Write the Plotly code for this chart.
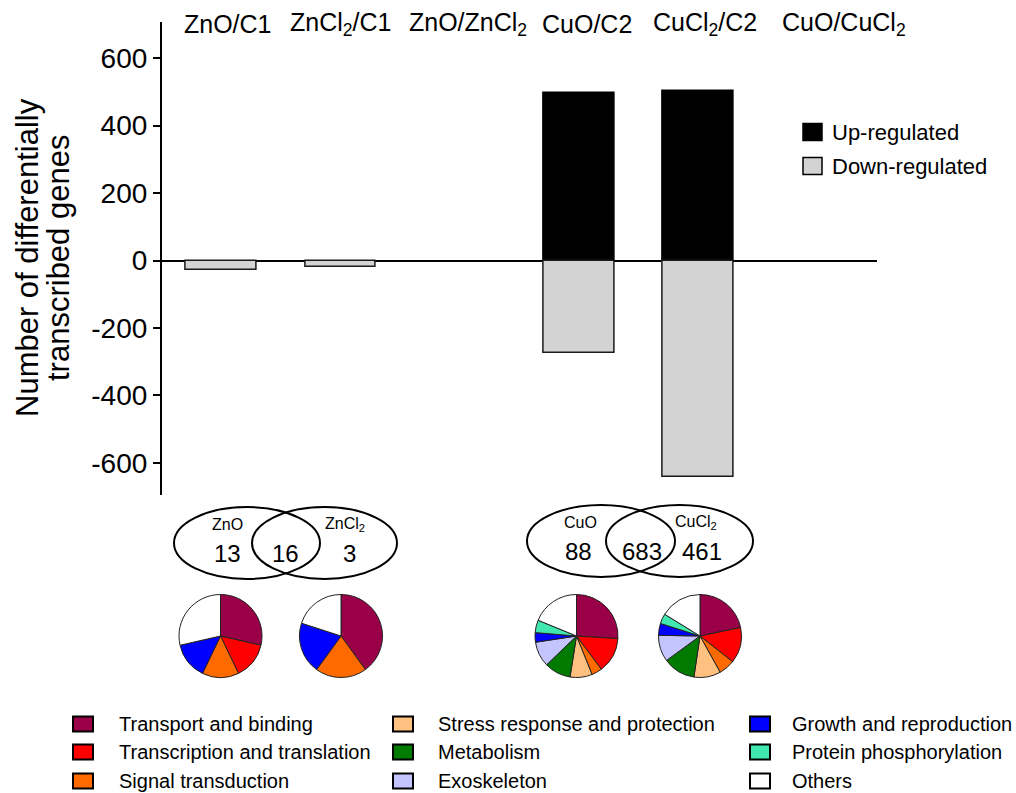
import plotly.graph_objects as go

# ---------------- data ----------------
comparisons = ["ZnO/C1", "ZnCl<sub>2</sub>/C1", "ZnO/ZnCl<sub>2</sub>",
               "CuO/C2", "CuCl<sub>2</sub>/C2", "CuO/CuCl<sub>2</sub>"]
# None = no differentially transcribed genes reported for that direction
up_regulated = [None, None, None, 496, 502, None]
down_regulated = [-29, -19, None, -275, -642, None]

y_ticks = [-600, -400, -200, 0, 200, 400, 600]
y_tick_text = ["-600", "-400", "-200", "0", "200", "400", "600"]

# Venn counts: (only first, shared, only second)
venn_zn_labels = ["ZnO", "ZnCl<sub>2</sub>"]
venn_zn_counts = [13, 16, 3]
venn_cu_labels = ["CuO", "CuCl<sub>2</sub>"]
venn_cu_counts = [88, 683, 461]

# functional categories (% of genes)
categories = ["Transport and binding", "Transcription and translation",
              "Signal transduction", "Stress response and protection",
              "Metabolism", "Exoskeleton", "Growth and reproduction",
              "Protein phosphorylation", "Others"]
category_colors = ["#990047", "#FF0000", "#FF6A00", "#FFC080", "#007A00",
                   "#C4C4FF", "#0000FF", "#40E8B0", "#FFFFFF"]
pie_zno = [28.6, 14.3, 14.3, 0, 0, 0, 14.3, 0, 28.6]
pie_zncl2 = [40.0, 0, 20.0, 0, 0, 0, 20.0, 0, 20.0]
pie_cuo = [26.0, 13.8, 4.1, 8.6, 10.3, 9.8, 3.7, 4.9, 18.8]
pie_cucl2 = [21.7, 13.9, 6.3, 10.4, 12.6, 10.3, 4.6, 3.9, 16.2]

# ---------------- layout helpers (pixel -> paper) ----------------
W, H = 1016, 793
FONT = "Arial, Liberation Sans, sans-serif"


def px(x):
    return x / W


def py(y):
    return 1 - y / H


fig = go.Figure()

fig.add_trace(go.Bar(x=list(range(6)), y=up_regulated, name="Up-regulated",
                     width=0.593, marker=dict(color="black",
                                              line=dict(color="black", width=1.5)),
                     showlegend=False))
fig.add_trace(go.Bar(x=list(range(6)), y=down_regulated, name="Down-regulated",
                     width=0.593, marker=dict(color="#D3D3D3",
                                              line=dict(color="#1a1a1a", width=1.5)),
                     showlegend=False))

# pies of functional categories
pie_centers = [220.5, 341, 576.5, 700]
pie_y, pie_r = 636, 41.5
for cx, vals in zip(pie_centers, [pie_zno, pie_zncl2, pie_cuo, pie_cucl2]):
    labs = [c for c, v in zip(categories, vals) if v > 0]
    cols = [k for k, v in zip(category_colors, vals) if v > 0]
    vv = [v for v in vals if v > 0]
    fig.add_trace(go.Pie(labels=labs, values=vv, sort=False, direction="clockwise",
                         rotation=0, textinfo="none", textposition="none",
                         hoverinfo="label+percent",
                         marker=dict(colors=cols, line=dict(color="#222222", width=1)),
                         domain=dict(x=[px(cx - pie_r), px(cx + pie_r)],
                                     y=[py(pie_y + pie_r), py(pie_y - pie_r)]),
                         showlegend=False))

shapes = []
annotations = []

# comparison labels along the top
label_x = [228, 340, 468, 587, 705, 844]
for lab, x in zip(comparisons, label_x):
    annotations.append(dict(x=px(x), y=py(24), xref="paper", yref="paper",
                            text=lab, showarrow=False, xanchor="center", yanchor="middle",
                            font=dict(family=FONT, size=25, color="black")))

# y-axis title (two lines)
for txt, x in [("Number of differentially", 27), ("transcribed genes", 58)]:
    annotations.append(dict(x=px(x), y=py(258), xref="paper", yref="paper",
                            text=txt, showarrow=False, textangle=-90,
                            xanchor="center", yanchor="middle",
                            font=dict(family=FONT, size=31, color="black")))

# up/down legend
for (name, color), yc in zip([("Up-regulated", "black"), ("Down-regulated", "#D3D3D3")],
                             [132, 166]):
    shapes.append(dict(type="rect", xref="paper", yref="paper",
                       x0=px(803), x1=px(822), y0=py(yc + 8.5), y1=py(yc - 8.5),
                       fillcolor=color, line=dict(color="black", width=1.5)))
    annotations.append(dict(x=px(830), y=py(yc), xref="paper", yref="paper",
                            text=name, showarrow=False, xanchor="left", yanchor="middle",
                            font=dict(family=FONT, size=22, color="black")))

# Venn diagrams
venns = [
    dict(labels=venn_zn_labels, counts=venn_zn_counts,
         left=(174, 320), right=(252, 397), y=(507, 579),
         name_pos=[(227, 524), (345, 524)],
         count_pos=[(227, 553), (285, 553), (349, 553)]),
    dict(labels=venn_cu_labels, counts=venn_cu_counts,
         left=(527, 675), right=(606, 753), y=(505, 577),
         name_pos=[(580, 522), (696, 522)],
         count_pos=[(578, 551), (642, 551), (702, 551)]),
]
for v in venns:
    for x0, x1 in (v["left"], v["right"]):
        shapes.append(dict(type="circle", xref="paper", yref="paper",
                           x0=px(x0), x1=px(x1), y0=py(v["y"][1]), y1=py(v["y"][0]),
                           line=dict(color="black", width=2)))
    for lab, (x, y) in zip(v["labels"], v["name_pos"]):
        annotations.append(dict(x=px(x), y=py(y), xref="paper", yref="paper",
                                text=lab, showarrow=False, xanchor="center",
                                yanchor="middle",
                                font=dict(family=FONT, size=16, color="black")))
    for cnt, (x, y) in zip(v["counts"], v["count_pos"]):
        annotations.append(dict(x=px(x), y=py(y), xref="paper", yref="paper",
                                text=str(cnt), showarrow=False, xanchor="center",
                                yanchor="middle",
                                font=dict(family=FONT, size=24, color="black")))

# functional category legend (three columns, filled column by column)
col_box_x = [73, 393, 750]
col_text_x = [117, 436, 790]
row_y = [724, 752, 781]
for i, (cat, color) in enumerate(zip(categories, category_colors)):
    c, r = divmod(i, 3)
    shapes.append(dict(type="rect", xref="paper", yref="paper",
                       x0=px(col_box_x[c]), x1=px(col_box_x[c] + 20),
                       y0=py(row_y[r] + 7.5), y1=py(row_y[r] - 7.5),
                       fillcolor=color, line=dict(color="black", width=2)))
    annotations.append(dict(x=px(col_text_x[c]), y=py(row_y[r]), xref="paper",
                            yref="paper", text=cat, showarrow=False,
                            xanchor="left", yanchor="middle",
                            font=dict(family=FONT, size=20, color="black")))

fig.update_layout(
    width=W, height=H,
    margin=dict(l=0, r=0, t=0, b=0),
    paper_bgcolor="white", plot_bgcolor="white",
    barmode="relative", bargap=0,
    shapes=shapes, annotations=annotations,
    xaxis=dict(domain=[px(161.65), px(877.45)], range=[-0.5, 5.5],
               showticklabels=False, showgrid=False, showline=False,
               zeroline=False, ticks=""),
    yaxis=dict(domain=[py(495), py(22)], range=[-695, 707],
               tickvals=y_ticks, ticktext=y_tick_text,
               ticks="outside", ticklen=7, tickwidth=1.5, tickcolor="black",
               showline=True, linecolor="black", linewidth=1.5,
               showgrid=False, zeroline=True, zerolinecolor="black",
               zerolinewidth=1.5,
               tickfont=dict(family=FONT, size=28, color="black")),
)

fig.write_html("out.html")
